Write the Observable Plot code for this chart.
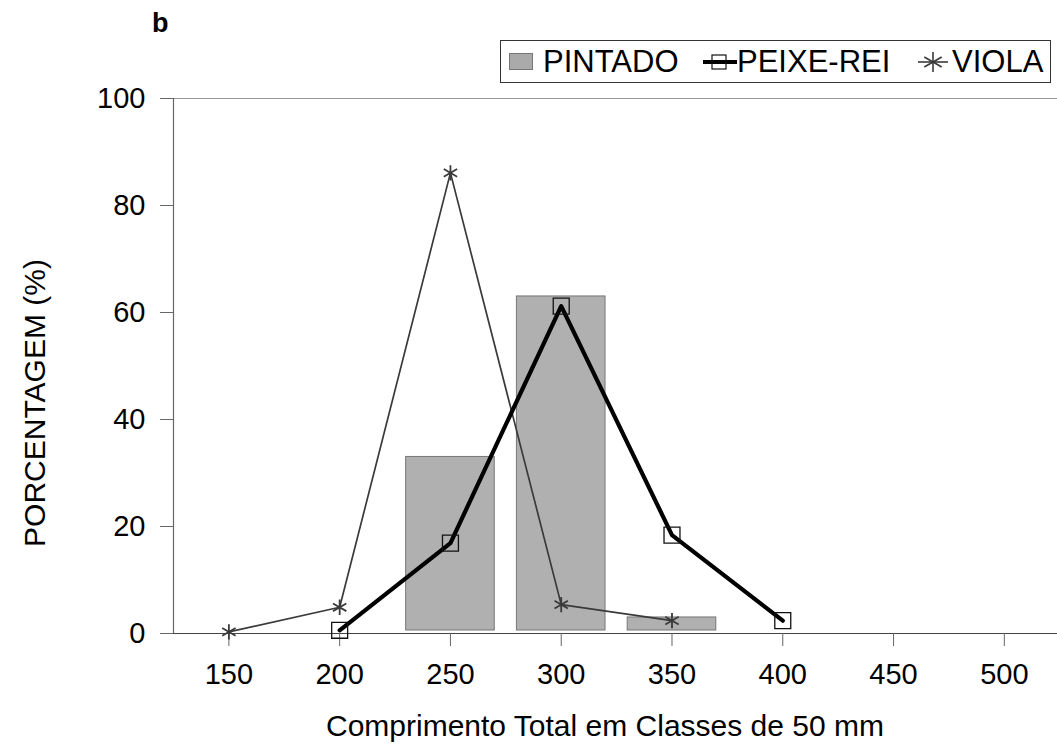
<!DOCTYPE html>
<html><head><meta charset="utf-8">
<script src="https://cdn.jsdelivr.net/npm/d3@7"></script>
<script src="https://cdn.jsdelivr.net/npm/@observablehq/plot@0.6"></script>
<style>
body{margin:0;background:#fff;font-family:"Liberation Sans",Arial,sans-serif;}
#wrap{position:relative;width:1057px;height:748px;overflow:hidden;}
#wrap svg{position:absolute;left:0;top:0;}
.abs{position:absolute;white-space:nowrap;color:#000;}
</style></head><body><div id="wrap"></div>
<script>
// Data
const xTicks = [150, 200, 250, 300, 350, 400, 450, 500];
const yTicks = [0, 20, 40, 60, 80, 100];
const pintadoX = [250, 300, 350];
const pintadoY = [33, 63, 3];
const peixeX = [200, 250, 300, 350, 400];
const peixeY = [0.6, 16.9, 61.2, 18.4, 2.4];
const violaX = [150, 200, 250, 300, 350];
const violaY = [0.3, 4.9, 86.1, 5.4, 2.4];
const classWidth = 50;
const barFraction = 0.8;

const pintado = pintadoX.map((x, i) => ({x, v: pintadoY[i]}));
const peixe = peixeX.map((x, i) => ({x, v: peixeY[i]}));
const viola = violaX.map((x, i) => ({x, v: violaY[i]}));
const half = classWidth * barFraction / 2;

const chart = Plot.plot({
  width: 1057, height: 748,
  marginTop: 98, marginBottom: 115, marginLeft: 173, marginRight: 0,
  style: {fontFamily: "'Liberation Sans', Arial, sans-serif", fontSize: "29px", color: "#000", background: "transparent", overflow: "visible"},
  x: {domain: [125, 524]},
  y: {domain: [0, 100]},
  marks: [
    Plot.ruleY([100], {stroke: "#999", strokeWidth: 1}),
    Plot.rectY(pintado, {x1: d => d.x - half, x2: d => d.x + half, y: "v", fill: "#b0b0b0", stroke: "#777", strokeWidth: 1, insetBottom: 3}),
    Plot.ruleY([0], {stroke: "#444", strokeWidth: 1.2}),
    Plot.ruleX([125], {stroke: "#666", strokeWidth: 1.2}),
    Plot.axisX({ticks: xTicks, tickSize: 13, tickPadding: 17, stroke: "#666", fill: "#000", label: null, fontSize: 29, tickFormat: d => String(d)}),
    Plot.axisY({ticks: yTicks, tickSize: 13, tickPadding: 15, stroke: "#666", fill: "#000", label: null, fontSize: 29}),
    Plot.line(viola, {x: "x", y: "v", stroke: "#3a3a3a", strokeWidth: 1.7}),
    Plot.line(peixe, {x: "x", y: "v", stroke: "#000", strokeWidth: 4.2}),
    Plot.dot(peixe, {x: "x", y: "v", symbol: "square", r: 9, stroke: "#111", fill: "none", strokeWidth: 1.3}),
    Plot.dot(viola, {x: "x", y: "v", symbol: "asterisk", r: 7.3, stroke: "#3a3a3a", strokeWidth: 1.8})
  ]
});
const wrap = document.getElementById("wrap");
wrap.appendChild(chart);

function add(html, css) {
  const d = document.createElement("div");
  d.className = "abs";
  d.innerHTML = html;
  Object.assign(d.style, css);
  wrap.appendChild(d);
  return d;
}
// panel letter
add("b", {left: "152px", top: "8px", fontSize: "27px", fontWeight: "bold"});
// axis titles
add("Comprimento Total em Classes de 50 mm", {left: "205px", width: "800px", textAlign: "center", top: "709px", fontSize: "30px"});
add("PORCENTAGEM (%)", {left: "-165px", width: "400px", textAlign: "center", top: "385px", lineHeight: "36px", fontSize: "30px", transform: "rotate(-90deg)", transformOrigin: "200px 18px"});
// legend
add("", {left: "500px", top: "40px", width: "551px", height: "43px", border: "1px solid #333", boxSizing: "border-box", background: "#fff"});
add("", {left: "509px", top: "53px", width: "24px", height: "17px", background: "#aaa", border: "1px solid #777", boxSizing: "border-box"});
add("PINTADO", {left: "543px", top: "41px", lineHeight: "42px", fontSize: "31px"});
add('<svg width="36" height="24"><line x1="1" y1="12" x2="35" y2="12" stroke="#000" stroke-width="4"/><rect x="10" y="5" width="14" height="14" fill="none" stroke="#111" stroke-width="1.2"/></svg>', {left: "702px", top: "50px", height: "24px"});
add("PEIXE-REI", {left: "737px", top: "41px", lineHeight: "42px", fontSize: "31px"});
add('<svg width="32" height="24"><line x1="1" y1="12" x2="31" y2="12" stroke="#3a3a3a" stroke-width="1.6"/><g transform="translate(16,12)" stroke="#3a3a3a" stroke-width="1.6"><line x1="0" y1="-10" x2="0" y2="10"/><line x1="-8.7" y1="-5" x2="8.7" y2="5"/><line x1="-8.7" y1="5" x2="8.7" y2="-5"/></g></svg>', {left: "917px", top: "50px", height: "24px"});
add("VIOLA", {left: "952px", top: "41px", lineHeight: "42px", fontSize: "31px"});
</script></body></html>
